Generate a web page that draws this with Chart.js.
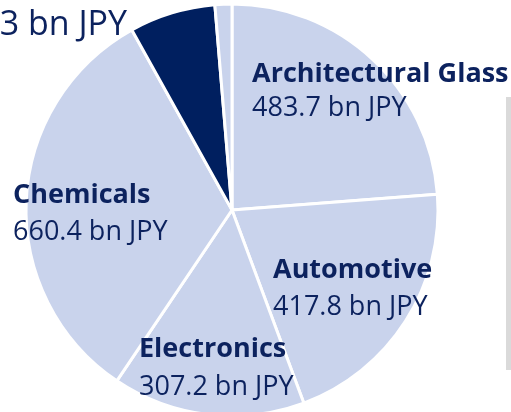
<!DOCTYPE html>
<html>
<head>
<meta charset="utf-8">
<script src="https://cdn.jsdelivr.net/npm/chart.js@4"></script>
<style>
  html, body { margin: 0; padding: 0; background: #fff; overflow: hidden; }
  #wrap { position: relative; width: 511px; height: 412px; overflow: hidden; }
  #pie { position: absolute; left: 0; top: 0; }
  #edge { position: absolute; left: 506px; top: 97px; width: 5px; height: 273px; background: #dadada; }
</style>
</head>
<body>
<div id="wrap">
  <div id="edge"></div>
  <canvas id="pie" width="511" height="420"></canvas>
</div>
<script>
// segment sales, bn JPY
const segments = ["Architectural Glass", "Automotive", "Electronics", "Chemicals", "Life Science", "Ceramics/Other"];
const sales = [483.7, 417.8, 307.2, 660.4, 137.3, 27.0];
const sliceColors = ["#c9d3ec", "#c9d3ec", "#c9d3ec", "#c9d3ec", "#001f5f", "#c9d3ec"];

// where each label sits (x, baseline of name line, gap to value line, font sizes)
const labelSpots = [
    { x: 252, y: 82, gap: 34, nameSize: 27, valSize: 27 },
    { x: 273, y: 278, gap: 37, nameSize: 27, valSize: 27 },
    { x: 139, y: 357, gap: 38, nameSize: 27, valSize: 27 },
    { x: 13, y: 203, gap: 37, nameSize: 27, valSize: 27 },
    { x: 127, y: -6, gap: 41, nameSize: 33, valSize: 34, right: true },
    null
];

const textColor = "#0c225e";

const labelPlugin = {
    id: "sliceLabels",
    afterDatasetsDraw(chart) {
        const ctx = chart.ctx;
        ctx.save();
        ctx.fillStyle = textColor;
        ctx.textBaseline = "alphabetic";
        for (var i = 0; i < segments.length; i++) {
            var spot = labelSpots[i];
            if (!spot) continue;
            ctx.textAlign = spot.right ? "right" : "left";
            ctx.font = "bold " + spot.nameSize + "px 'Open Sans'";
            ctx.fillText(segments[i], spot.x, spot.y);
            ctx.font = spot.valSize + "px 'Open Sans'";
            ctx.fillText(sales[i].toFixed(1) + " bn JPY", spot.x, spot.y + spot.gap);
        }
        ctx.restore();
    }
};

new Chart(document.getElementById("pie").getContext("2d"), {
    type: "pie",
    data: {
        labels: segments,
        datasets: [{
            data: sales,
            backgroundColor: sliceColors,
            borderColor: "#ffffff",
            borderWidth: 3
        }]
    },
    options: {
        responsive: false,
        animation: false,
        radius: 206,
        layout: { padding: { left: 0, right: 47, top: 0, bottom: 0 } },
        plugins: {
            legend: { display: false },
            tooltip: { enabled: false }
        }
    },
    plugins: [labelPlugin]
});
</script>
</body>
</html>
